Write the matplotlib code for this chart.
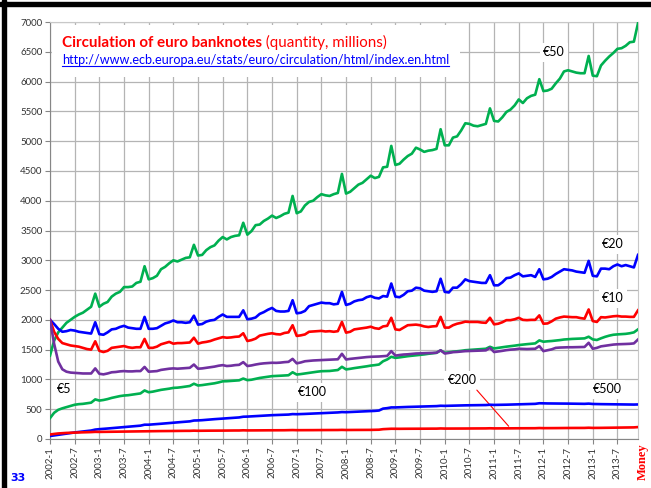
import matplotlib.pyplot as plt
from matplotlib.lines import Line2D
from matplotlib.patches import Rectangle

plt.rcParams["font.family"] = ["Lato", "DejaVu Sans"]

# monthly circulation, millions of notes, Jan 2002 .. Dec 2013 (one row per year)
eur50 = [
    1400, 1650, 1790, 1870, 1950, 2000, 2050, 2090, 2120, 2170, 2220, 2440,
    2220, 2270, 2300, 2390, 2440, 2470, 2550, 2550, 2560, 2620, 2640, 2900,
    2680, 2700, 2740, 2850, 2890, 2950, 3000, 2980, 3010, 3040, 3050, 3260,
    3080, 3090, 3170, 3220, 3250, 3330, 3390, 3350, 3390, 3410, 3420, 3630,
    3430, 3490, 3590, 3600, 3660, 3700, 3750, 3710, 3740, 3780, 3800, 4080,
    3790, 3820, 3920, 3980, 4000, 4060, 4110, 4090, 4080, 4110, 4130, 4450,
    4120, 4150, 4210, 4270, 4300, 4360, 4420, 4380, 4400, 4560, 4570, 4920,
    4600, 4620, 4690, 4750, 4790, 4890, 4860, 4820, 4840, 4850, 4870, 5200,
    4930, 4930, 5060, 5080, 5180, 5300, 5290, 5260, 5250, 5270, 5290, 5550,
    5340, 5330, 5400, 5490, 5530, 5600, 5700, 5640, 5720, 5760, 5780, 6040,
    5840, 5850, 5880, 5970, 6050, 6170, 6190, 6170, 6150, 6140, 6140, 6430,
    6100, 6090, 6270, 6350, 6420, 6480, 6550, 6560, 6600, 6660, 6670, 6980,
]
eur20 = [
    2000, 1930, 1850, 1800, 1810, 1830, 1820, 1800, 1790, 1780, 1770, 1960,
    1760, 1750, 1790, 1840, 1850, 1880, 1900, 1870, 1860, 1850, 1850, 2050,
    1850, 1850, 1860, 1900, 1940, 1960, 1990, 1960, 1960, 1950, 1960, 2070,
    1920, 1930, 1970, 1990, 2000, 2050, 2090, 2050, 2050, 2050, 2050, 2160,
    2010, 2020, 2040, 2100, 2130, 2170, 2200, 2150, 2140, 2140, 2150, 2330,
    2110, 2120, 2150, 2230, 2250, 2270, 2290, 2280, 2280, 2260, 2270, 2470,
    2250, 2270, 2310, 2330, 2340, 2380, 2400, 2370, 2360, 2400, 2390, 2610,
    2390, 2380, 2420, 2480, 2490, 2540, 2530, 2490, 2480, 2470, 2480, 2690,
    2470, 2460, 2540, 2540, 2600, 2680, 2650, 2640, 2630, 2620, 2620, 2750,
    2580, 2580, 2630, 2700, 2710, 2750, 2780, 2730, 2740, 2750, 2720, 2850,
    2680, 2690, 2720, 2770, 2810, 2850, 2840, 2830, 2810, 2800, 2790, 2990,
    2740, 2730, 2860, 2860, 2850, 2900, 2930, 2900, 2920, 2900, 2880, 3090,
]
eur10 = [
    2000, 1800, 1680, 1610, 1590, 1570, 1560, 1550, 1530, 1510, 1500, 1640,
    1480, 1460, 1480, 1530, 1540, 1550, 1560, 1540, 1530, 1540, 1540, 1680,
    1530, 1530, 1550, 1590, 1610, 1630, 1600, 1610, 1610, 1615, 1620, 1700,
    1600, 1620, 1630, 1645, 1670, 1690, 1710, 1700, 1705, 1715, 1720, 1775,
    1645, 1660, 1685, 1735, 1750, 1765, 1775, 1760, 1755, 1780, 1790, 1910,
    1730, 1740, 1755, 1800, 1805, 1810, 1815, 1805, 1810, 1800, 1810, 1965,
    1785, 1800, 1840, 1850, 1860, 1870, 1885, 1860, 1850, 1890, 1900, 2035,
    1840, 1830, 1870, 1910, 1915, 1920, 1910, 1890, 1880, 1890, 1895, 2050,
    1870, 1870, 1910, 1935, 1950, 1970, 1965, 1965, 1965, 1955, 1950, 2035,
    1925, 1935, 1960, 1995, 1995, 2010, 2035, 2000, 1995, 2000, 2000, 2075,
    1935, 1940, 1975, 2020, 2040, 2055, 2050, 2045, 2045, 2030, 2020, 2175,
    1980, 1965, 2045, 2040, 2050, 2060, 2065, 2055, 2055, 2050, 2050, 2160,
]
eur5 = [
    2000, 1600, 1300, 1170, 1130, 1115, 1110, 1105, 1100, 1100, 1100, 1185,
    1095, 1085, 1100, 1120, 1125, 1135, 1140, 1135, 1135, 1140, 1140, 1210,
    1130, 1135, 1140, 1160, 1170, 1180, 1185, 1180, 1185, 1190, 1195, 1250,
    1180, 1185, 1195, 1205, 1215, 1230, 1240, 1225, 1230, 1240, 1245, 1290,
    1225, 1235, 1250, 1262, 1270, 1275, 1280, 1278, 1282, 1290, 1295, 1345,
    1270, 1285, 1305, 1312, 1318, 1322, 1325, 1328, 1332, 1335, 1338, 1430,
    1335, 1345, 1352, 1360, 1368, 1375, 1380, 1382, 1385, 1390, 1395, 1475,
    1400, 1410, 1418, 1422, 1428, 1435, 1438, 1440, 1442, 1445, 1448, 1490,
    1435, 1445, 1458, 1462, 1468, 1475, 1478, 1480, 1482, 1485, 1488, 1530,
    1460, 1470, 1480, 1492, 1500, 1505, 1515, 1512, 1510, 1512, 1515, 1560,
    1475, 1490, 1505, 1530, 1535, 1538, 1540, 1540, 1542, 1543, 1545, 1615,
    1515, 1530, 1555, 1565, 1575, 1585, 1590, 1592, 1595, 1598, 1605, 1670,
]
eur100 = [
    350, 440, 490, 515, 535, 555, 575, 585, 590, 600, 610, 665,
    645, 655, 670, 690, 705, 720, 730, 735, 745, 755, 765, 815,
    785, 795, 810, 825, 835, 845, 858, 862, 870, 880, 890, 928,
    898, 905, 915, 925, 935, 950, 968, 970, 975, 980, 985, 1015,
    988, 995, 1010, 1025, 1035, 1045, 1055, 1058, 1062, 1066, 1070, 1120,
    1082, 1090, 1100, 1110, 1120, 1130, 1138, 1140, 1142, 1150, 1158, 1212,
    1168, 1178, 1190, 1200, 1210, 1220, 1232, 1240, 1250, 1305, 1335, 1380,
    1362, 1370, 1380, 1390, 1398, 1405, 1412, 1420, 1430, 1438, 1447, 1487,
    1447, 1455, 1465, 1472, 1480, 1490, 1495, 1500, 1505, 1510, 1515, 1548,
    1520, 1530, 1540, 1550, 1558, 1567, 1577, 1585, 1592, 1598, 1605, 1655,
    1633, 1640, 1645, 1652, 1660, 1670, 1675, 1680, 1683, 1686, 1689, 1717,
    1672, 1662, 1690, 1715, 1735, 1750, 1756, 1760, 1765, 1775, 1790, 1840,
]
eur500 = [
    50, 60, 70, 80, 90, 100, 110, 118, 126, 134, 142, 158,
    165, 170, 176, 182, 188, 194, 200, 206, 212, 218, 224, 240,
    240, 245, 250, 256, 262, 268, 274, 280, 285, 290, 296, 310,
    312, 316, 322, 328, 333, 338, 343, 348, 352, 357, 362, 374,
    376, 380, 384, 388, 392, 396, 400, 402, 405, 408, 410, 418,
    416, 418, 421, 424, 427, 430, 433, 436, 439, 442, 446, 452,
    450, 453, 456, 459, 462, 465, 468, 472, 478, 510, 518, 530,
    530, 533, 536, 538, 540, 542, 544, 546, 548, 550, 552, 558,
    556, 558, 560, 562, 563, 565, 566, 567, 568, 569, 570, 575,
    572, 573, 575, 576, 578, 580, 582, 584, 586, 588, 590, 600,
    598, 597, 596, 595, 595, 595, 594, 593, 592, 591, 590, 594,
    588, 586, 585, 584, 583, 582, 581, 580, 579, 578, 578, 580,
]
eur200 = [
    75, 85, 93, 98, 102, 105, 108, 110, 112, 114, 116, 120,
    119, 120, 121, 122, 123, 124, 125, 126, 127, 128, 128, 131,
    130, 131, 132, 133, 133, 134, 135, 135, 136, 137, 137, 140,
    138, 139, 139, 140, 140, 141, 141, 142, 142, 143, 143, 146,
    144, 144, 145, 145, 146, 146, 146, 147, 147, 147, 148, 150,
    148, 148, 149, 149, 149, 150, 150, 150, 150, 151, 151, 153,
    151, 152, 152, 152, 153, 153, 153, 154, 156, 165, 168, 172,
    171, 171, 172, 172, 172, 173, 173, 173, 174, 174, 174, 177,
    175, 175, 175, 176, 176, 176, 177, 177, 177, 177, 178, 180,
    178, 178, 179, 179, 179, 180, 180, 180, 181, 181, 181, 184,
    182, 182, 183, 183, 184, 184, 185, 185, 185, 186, 186, 189,
    186, 186, 187, 188, 188, 189, 190, 191, 192, 193, 195, 200,
]

months = list(range(len(eur50)))
tick_months = months[::6]
tick_labels = [f"{2002 + m // 12}-{m % 12 + 1}" for m in tick_months]

GREEN = "#00b050"
BLUE = "#0000ff"
RED = "#ff0000"
PURPLE = "#7030a0"

W, H = 651, 488
fig = plt.figure(figsize=(W / 100, H / 100), dpi=100)
ax = fig.add_axes([50 / W, 49 / H, 588 / W, 417 / H])


def ax_xy(px, py):
    # pixel position of the picture -> axes fraction
    return (px - 50) / 588, (439 - py) / 417


series = [
    (eur50, GREEN), (eur20, BLUE), (eur10, RED), (eur100, GREEN),
    (eur5, PURPLE), (eur500, BLUE), (eur200, RED),
]
for values, color in series:
    ax.plot(months, values, color=color, lw=1.9, zorder=3, solid_joinstyle="round")

ax.set_xlim(0, months[-1])
ax.set_ylim(0, 7000)
ax.set_xticks(tick_months)
ax.set_xticklabels(tick_labels, rotation=90)
ax.set_yticks(range(0, 7001, 500))
ax.tick_params(direction="out", length=3.5, width=0.8, color="#868686",
               labelsize=7, labelcolor="#333333", pad=2)
ax.grid(True, color="#b4b4b4", lw=0.9)
ax.set_axisbelow(True)
for side in ("left", "bottom"):
    ax.spines[side].set_color("#868686")
for side in ("top", "right"):
    ax.spines[side].set_color("#c8c8c8")

# white box behind the title, hiding the grid
x0, y1 = ax_xy(52, 25)
x1, y0 = ax_xy(460, 77)
ax.add_patch(Rectangle((x0, y0), x1 - x0, y1 - y0, transform=ax.transAxes,
                       facecolor="white", edgecolor="none", zorder=1))

t1 = ax.text(*ax_xy(62, 47), "Circulation of euro banknotes", transform=ax.transAxes,
             color=RED, fontsize=10.9, weight="bold", va="baseline", zorder=4)
ax.annotate(" (quantity, millions)", xy=(1, 0), xycoords=t1, color=RED,
            fontsize=10.9, va="bottom", ha="left", zorder=4)
url = ax.text(*ax_xy(62, 64), "http://www.ecb.europa.eu/stats/euro/circulation/html/index.en.html",
              transform=ax.transAxes, color=BLUE, fontsize=9.1, va="baseline", zorder=4)

labels = [
    ("€50", 554, 52), ("€20", 613, 244), ("€10", 613, 298), ("€5", 64, 389),
    ("€100", 312, 392), ("€200", 462, 380), ("€500", 607, 389),
]
for text, px, py in labels:
    ax.text(*ax_xy(px, py), text, transform=ax.transAxes, fontsize=9, color="black",
            ha="center", va="center", zorder=2,
            bbox=dict(facecolor="white", edgecolor="none", pad=2.5))

# thin pointer from the €200 label to its line
ax.annotate("", xy=(112, eur200[112]), xytext=ax_xy(475, 388), textcoords="axes fraction",
            arrowprops=dict(arrowstyle="-", color=RED, lw=0.8), zorder=2)

# slide decoration
fig.add_artist(Rectangle((0, (H - 6) / H), 1, 4 / H, transform=fig.transFigure, color="black"))
fig.add_artist(Rectangle((2 / W, 0), 4 / W, 1, transform=fig.transFigure, color="black"))
fig.text(18 / W, 1 - 478 / H, "33", color=BLUE, weight="bold", fontsize=8,
         ha="center", va="center", family=["DejaVu Sans"])
fig.text(643 / W, 1 - 462 / H, "Money", color=RED, weight="bold", fontsize=9,
         rotation=90, ha="center", va="center", family=["Liberation Serif"])

# underline the link
fig.canvas.draw()
bb = url.get_window_extent()
uy = H - 66
fig.add_artist(Line2D([bb.x0 / W, bb.x1 / W], [uy / H, uy / H], transform=fig.transFigure,
                      color=BLUE, lw=0.8))

fig.savefig("out.png", dpi=100)
